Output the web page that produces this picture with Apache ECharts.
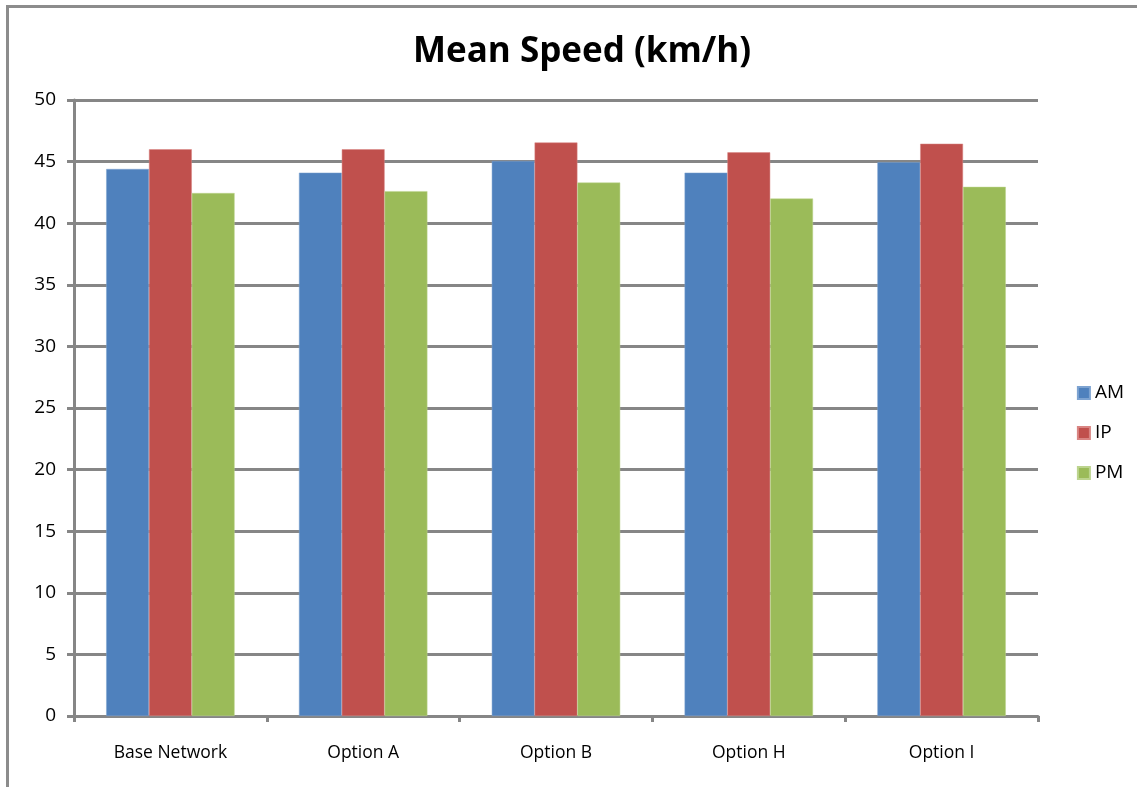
<!DOCTYPE html>
<html>
<head>
<meta charset="utf-8">
<script src="https://cdn.jsdelivr.net/npm/echarts@6/dist/echarts.min.js"></script>
<style>
html,body{margin:0;padding:0;background:#fff;}
#main{width:1137px;height:787px;}
</style>
</head>
<body>
<div id="main"></div>
<script>
var categories = ['Base Network', 'Option A', 'Option B', 'Option H', 'Option I'];
var amValues = [44.4, 44.1, 45.05, 44.1, 44.95];
var ipValues = [46.0, 46.0, 46.55, 45.75, 46.45];
var pmValues = [42.45, 42.6, 43.3, 42.0, 42.95];
var yTicks = [0, 5, 10, 15, 20, 25, 30, 35, 40, 45, 50];

var chart = echarts.init(document.getElementById('main'), null, {renderer: 'canvas'});
var fontFam = '"Open Sans", "Liberation Sans", sans-serif';
var option = {
  animation: false,
  backgroundColor: '#ffffff',
  title: {
    text: 'Mean Speed (km/h)',
    left: 408,
    top: 30,
    textStyle: {fontFamily: fontFam, fontWeight: 'bold', fontSize: 35, color: '#000'}
  },
  graphic: [{
    type: 'rect',
    shape: {x: 7.5, y: 6.5, width: 1200, height: 900},
    style: {fill: 'none', stroke: '#8c8c8c', lineWidth: 3},
    silent: true
  }],
  legend: {
    orient: 'vertical',
    right: 8,
    top: 375,
    itemWidth: 12,
    itemHeight: 12,
    itemGap: 14,
    icon: 'rect',
    textStyle: {fontFamily: fontFam, fontSize: 19, color: '#000', lineHeight: 26},
    data: ['AM', 'IP', 'PM']
  },
  grid: {left: 74, right: 99, top: 100, bottom: 71},
  xAxis: {
    type: 'category',
    data: categories,
    axisLine: {lineStyle: {color: '#868686', width: 3}},
    axisTick: {show: true, alignWithLabel: false, length: 6, lineStyle: {color: '#868686', width: 3}},
    axisLabel: {fontFamily: fontFam, fontSize: 17.5, color: '#000', margin: 28}
  },
  yAxis: {
    type: 'value',
    min: yTicks[0],
    max: yTicks[yTicks.length - 1],
    interval: 5,
    axisLine: {show: true, lineStyle: {color: '#868686', width: 3}},
    axisTick: {show: true, length: 7, lineStyle: {color: '#868686', width: 3}},
    axisLabel: {fontFamily: fontFam, fontSize: 19, color: '#000', margin: 18},
    splitLine: {show: true, lineStyle: {color: '#868686', width: 3}}
  },
  series: [
    {name: 'AM', type: 'bar', data: amValues, barGap: '0%', barCategoryGap: '33.4%',
     itemStyle: {color: '#4f81bd', borderColor: '#7da3d1', borderWidth: 0.5}},
    {name: 'IP', type: 'bar', data: ipValues, barGap: '0%', barCategoryGap: '33.4%',
     itemStyle: {color: '#c0504d', borderColor: '#d98583', borderWidth: 0.5}},
    {name: 'PM', type: 'bar', data: pmValues, barGap: '0%', barCategoryGap: '33.4%',
     itemStyle: {color: '#9bbb59', borderColor: '#bcd48e', borderWidth: 0.5}}
  ]
};
chart.setOption(option);
</script>
</body>
</html>
